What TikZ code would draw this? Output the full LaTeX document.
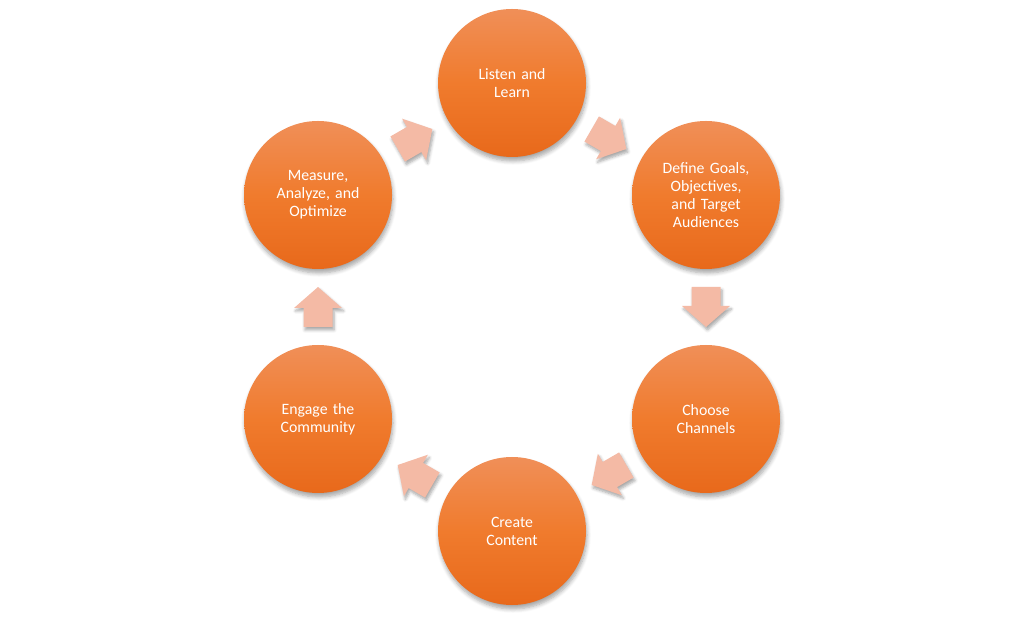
\documentclass[tikz,border=0pt]{standalone}
\usepackage{fontspec}
\setmainfont{Carlito}
\usetikzlibrary{calc,shadows.blur}
\definecolor{orTop}{HTML}{F08F58}
\definecolor{orMid}{HTML}{F07B2D}
\definecolor{orBot}{HTML}{E8691B}
\definecolor{arrFill}{HTML}{F4BAA5}
\tikzset{
  stage/.style={circle, minimum size=148pt, inner sep=0pt, text=white,
    top color=orTop, bottom color=orBot, middle color=orMid,
    align=center, text width=120pt,
    font=\fontsize{15.8pt}{18pt}\selectfont,
    blur shadow={shadow xshift=1pt, shadow yshift=-4pt, shadow blur steps=6, shadow opacity=35, shadow blur radius=4pt}},
  blockarrow/.style={fill=arrFill,
    blur shadow={shadow xshift=1.5pt, shadow yshift=-3pt, shadow blur steps=5, shadow opacity=35, shadow blur radius=3pt}}
}
\newcommand{\blockarr}[2]{%
  \begin{scope}[shift={(#1)}, rotate=#2]
    \path[blockarrow] (-20,-14.5) -- (-1,-14.5) -- (-1,-24) -- (20,0) -- (-1,24) -- (-1,14.5) -- (-20,14.5) -- cycle;
  \end{scope}}
\begin{document}
\begin{tikzpicture}[x=1pt,y=1pt]
\useasboundingbox (0,0) rectangle (1024,626);
\begin{scope}[shift={(512,319)}]
  \node[stage] (n1) at (90:224) {Listen and\\Learn};
  \node[stage] (n2) at (30:224) {Define Goals,\\Objectives,\\and Target\\Audiences};
  \node[stage] (n3) at (-30:224) {Choose\\Channels};
  \node[stage] (n4) at (-90:224) {Create\\Content};
  \node[stage] (n5) at (210:224) {Engage the\\Community};
  \node[stage] (n6) at (150:224) {Measure,\\Analyze, and\\Optimize};
\end{scope}
\coordinate (m12) at ($(n1)!0.5!(n2)$);
\coordinate (m23) at ($(n2)!0.5!(n3)$);
\coordinate (m34) at ($(n3)!0.5!(n4)$);
\coordinate (m45) at ($(n4)!0.5!(n5)$);
\coordinate (m56) at ($(n5)!0.5!(n6)$);
\coordinate (m61) at ($(n6)!0.5!(n1)$);
\blockarr{m12}{-30}
\blockarr{m23}{-90}
\blockarr{m34}{-150}
\blockarr{m45}{150}
\blockarr{m56}{90}
\blockarr{m61}{30}
\end{tikzpicture}
\end{document}
